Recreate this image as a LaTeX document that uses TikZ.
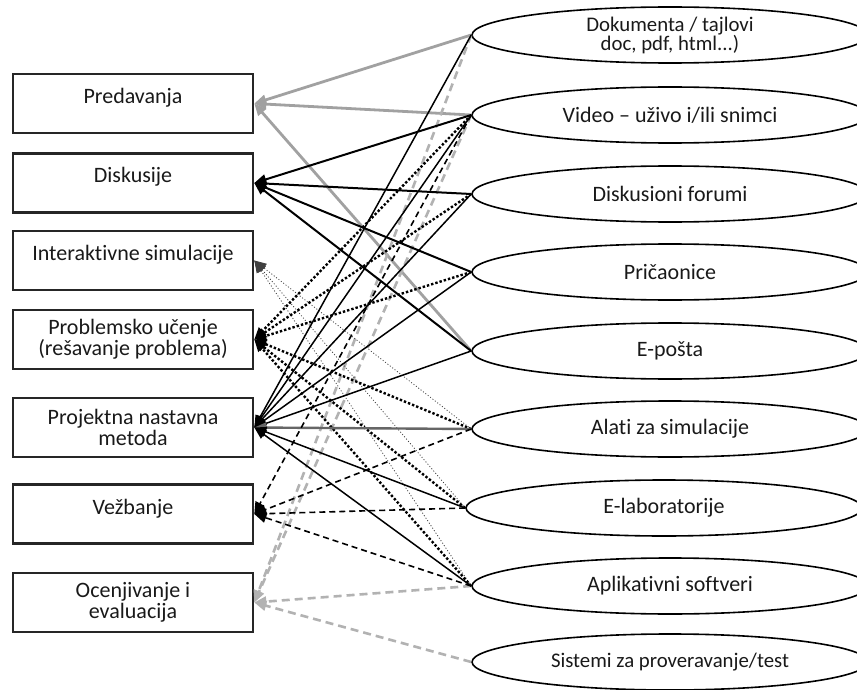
\documentclass[tikz,border=0pt]{standalone}
\usepackage{fontspec}
\setmainfont{Carlito}[Ligatures=NoCommon]
\usetikzlibrary{shapes.geometric,arrows.meta}
\begin{document}
\begin{tikzpicture}[x=0.5pt,y=-0.5pt]
        \useasboundingbox (0,0) rectangle (857,690);

        \begin{scope}[every node/.style={draw=black!85,line width=1.3pt,minimum width=120pt,minimum height=29.5pt,inner sep=0pt,align=center,text=black!90,font=\fontsize{11}{10.5}\selectfont},
                      single/.style={text height=8pt,text depth=8pt}]
          \node[single] (pred) at (133,103.5) {Predavanja};
          \node[single] (disk) at (133,183)   {Diskusije};
          \node[single] (inter) at (133,260.5) {Interaktivne simulacije};
          \node (prob) at (133,339.5) {Problemsko učenje\\(rešavanje problema)};
          \node (proj) at (133,427.5) {Projektna nastavna\\metoda};
          \node[single] (vezb) at (133,514)   {Vežbanje};
          \node (ocen) at (133,602.5) {Ocenjivanje i\\evaluacija};
        \end{scope}

        \begin{scope}[every node/.style={ellipse,draw,line width=0.8pt,minimum width=198pt,minimum height=28pt,inner sep=0pt,align=center,text=black!90,font=\fontsize{11}{13}\selectfont}]
          \node[font=\fontsize{10.4}{12}\selectfont] (dok) at (670,35) {Dokumenta / tajlovi\\[-2.5pt]doc, pdf, html...)};
          \node (vid) at (670,115) {Video – uživo i/ili snimci};
          \node (dis) at (670,194) {Diskusioni forumi};
          \node (pri) at (670,272) {Pričaonice};
          \node (epo) at (670,351) {E-pošta};
          \node (ala) at (670,429) {Alati za simulacije};
          \node (ela) at (664,508) {E-laboratorije};
          \node (apl) at (670,586) {Aplikativni softveri};
          \node[font=\fontsize{10.4}{13}\selectfont] (sis) at (670,662) {Sistemi za proveravanje/test};
        \end{scope}

        % predavanja
        \begin{scope}[every edge/.style={draw=black!37,line width=1.4pt,-{Triangle[length=6pt,width=5pt]}}]
          \path (dok.west) edge (pred.east);
          \path (vid.west) edge (pred.east);
          \path (epo.west) edge (pred.east);
        \end{scope}

        % ocenjivanje
        \begin{scope}[every edge/.style={draw=black!30,line width=1.3pt,dash pattern=on 4pt off 2.5pt,-{Triangle[length=6pt,width=5pt]}}]
          \path (dok.west) edge (ocen.east);
          \path (vid.west) edge (ocen.east);
          \path (apl.west) edge (ocen.east);
          \path (sis.west) edge (ocen.east);
        \end{scope}

        % diskusije
        \begin{scope}[every edge/.style={draw,line width=1pt,-{Triangle[length=6pt,width=5pt]}}]
          \path (vid.west) edge (disk.east);
          \path (dis.west) edge (disk.east);
          \path (pri.west) edge (disk.east);
          \path (epo.west) edge (disk.east);
        \end{scope}

        % interaktivne simulacije
        \begin{scope}[every edge/.style={draw=black!75,line width=0.4pt,dash pattern=on 0.5pt off 1pt,-{Triangle[length=6pt,width=5pt]}}]
          \path (ala.west) edge (inter.east);
          \path (ela.west) edge (inter.east);
          \path (apl.west) edge (inter.east);
        \end{scope}

        % problemsko ucenje
        \begin{scope}[every edge/.style={draw,line width=1.2pt,dash pattern=on 1.2pt off 1pt,-{Triangle[length=6pt,width=5pt]}}]
          \path (vid.west) edge (prob.east);
          \path (dis.west) edge (prob.east);
          \path (pri.west) edge (prob.east);
          \path (ala.west) edge (prob.east);
          \path (ela.west) edge (prob.east);
          \path (apl.west) edge (prob.east);
        \end{scope}

        % projektna nastava
        \begin{scope}[every edge/.style={draw,line width=0.75pt,-{Triangle[length=6pt,width=5pt]}}]
          \path (dok.west) edge (proj.east);
          \path (vid.west) edge (proj.east);
          \path (dis.west) edge (proj.east);
          \path (pri.west) edge (proj.east);
          \path (epo.west) edge (proj.east);
          \path (ala.west) edge[draw=black!60,line width=1.2pt] (proj.east);
          \path (ela.west) edge (proj.east);
          \path (apl.west) edge (proj.east);
        \end{scope}

        % vezbanje
        \begin{scope}[every edge/.style={draw,line width=0.8pt,dash pattern=on 3pt off 2pt,-{Triangle[length=6pt,width=5pt]}}]
          \path (vid.west) edge (vezb.east);
          \path (ala.west) edge (vezb.east);
          \path (ela.west) edge (vezb.east);
          \path (apl.west) edge (vezb.east);
        \end{scope}

      \end{tikzpicture}
\end{document}
